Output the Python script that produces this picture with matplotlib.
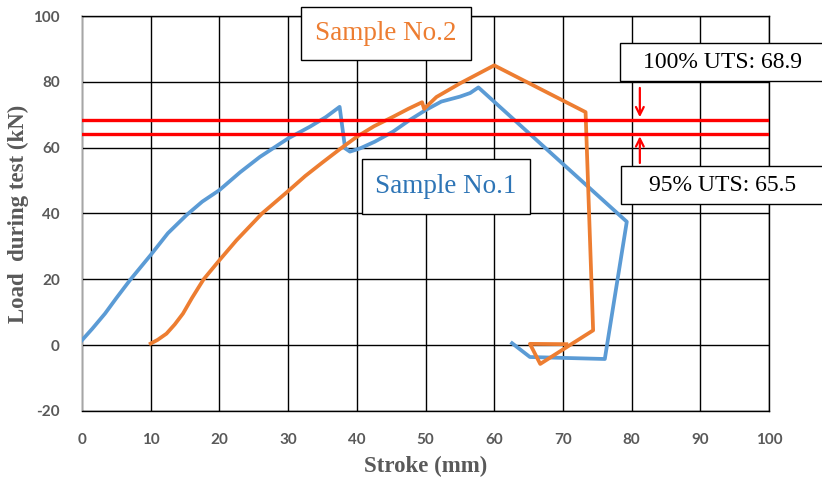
import matplotlib.pyplot as plt
from matplotlib.patches import Rectangle

plt.rcParams['axes.unicode_minus'] = False

# Sample No.1 (blue) stroke / load
s1_x = [0, 1.5, 3.35, 5, 7, 10, 12.5, 15.2, 17.5, 20, 23, 25.9, 30, 33.2, 35.5, 37.5, 38.3, 39,
        40.5, 42.6, 45.3, 47.7, 50, 52.3, 55, 56.5, 57.7, 79.3, 76.1, 65.2, 62.6]
s1_y = [1.5, 5, 9.6, 14.3, 19.8, 27.4, 34, 39.5, 43.6, 47.1, 52.5, 57.2, 62.8, 66.4, 69.3, 72.4, 59.8,
        58.8, 59.8, 61.8, 64.9, 68.4, 71.4, 74, 75.5, 76.6, 78.3, 37.5, -4.2, -3.6, 0.6]

# Sample No.2 (orange)
s2_x = [10, 11, 12.3, 13.5, 14.7, 16, 17.7, 20, 22.5, 26.2, 30, 32.5, 35, 37.5, 40, 42.5, 45.3, 47.5,
        49.5, 49.8, 51.6, 55, 60, 73.3, 74.4, 66.7, 65.2, 70.5]
s2_y = [0.5, 1.6, 3.5, 6.3, 9.6, 14.3, 20, 25.8, 31.9, 40, 46.8, 51.4, 55.5, 59.5, 63.3, 66.5, 69.4, 71.8,
        73.8, 71.8, 75.4, 79.5, 85, 70.8, 4.5, -5.7, 0.4, 0.3]

uts_100 = 68.4
uts_95 = 64.3
xticks = list(range(0, 101, 10))
yticks = list(range(-20, 101, 20))

W, H = 822, 480
fig = plt.figure(figsize=(W / 100, H / 100), dpi=100)
ax = fig.add_axes([82 / W, 1 - 411 / H, (769 - 82) / W, (411 - 16) / H])

ax.set_xlim(0, 100)
ax.set_ylim(-20, 100)
ax.set_xticks(xticks)
ax.set_yticks(yticks)
ax.grid(True, color='black', linewidth=1.0)
ax.set_axisbelow(True)
for s in ['top', 'right', 'bottom']:
    ax.spines[s].set_color('black')
    ax.spines[s].set_linewidth(1.0)
ax.spines['left'].set_color('#c8c8c8')
ax.spines['left'].set_linewidth(1.2)
ax.tick_params(length=0, labelsize=11, labelcolor='#595959')
ax.tick_params(axis='y', pad=16)
ax.tick_params(axis='x', pad=16)
for lab in ax.get_xticklabels() + ax.get_yticklabels():
    lab.set_fontweight('bold')
    lab.set_family('Lato')

ax.plot(s1_x, s1_y, color='#5B9BD5', lw=2.7, zorder=3)
ax.plot(s2_x, s2_y, color='#ED7D31', lw=2.7, zorder=3)
ax.axhline(uts_100, color='#FF0000', lw=2.4, zorder=4)
ax.axhline(uts_95, color='#FF0000', lw=2.4, zorder=4)

# arrows pointing at the UTS lines
ax.annotate('', xy=(81.2, uts_100), xytext=(81.2, 79),
            arrowprops=dict(arrowstyle='->', color='#FF0000', lw=1.6, mutation_scale=14))
ax.annotate('', xy=(81.2, uts_95), xytext=(81.2, 54.5),
            arrowprops=dict(arrowstyle='->', color='#FF0000', lw=1.6, mutation_scale=14))


def box(x0, y0, x1, y1, text, color, size):
    fig.patches.append(Rectangle((x0 / W, 1 - y1 / H), (x1 - x0) / W, (y1 - y0) / H,
                                 transform=fig.transFigure, facecolor='white',
                                 edgecolor='black', lw=1.0, zorder=5))
    fig.text((x0 + x1) / 2 / W, 1 - (y0 + y1) / 2 / H, text, color=color, size=size,
             family='Liberation Serif', ha='center', va='center', zorder=6)


box(301, 7, 471, 60, 'Sample No.2', '#ED7D31', 19.5)
box(362, 159, 530, 214, 'Sample No.1', '#2E75B6', 19.5)
box(620, 43, 824, 81, '100% UTS: 68.9', 'black', 17)
box(621, 166, 824, 204, '95% UTS: 65.5', 'black', 17)

ax.set_xlabel('Stroke (mm)', family='Liberation Serif', fontweight='bold',
              size=16.5, color='#595959', labelpad=6)
ax.set_ylabel('Load  during test (kN)', family='Liberation Serif', fontweight='bold',
              size=16.5, color='#595959', labelpad=3)

fig.savefig('out.png', dpi=100)
